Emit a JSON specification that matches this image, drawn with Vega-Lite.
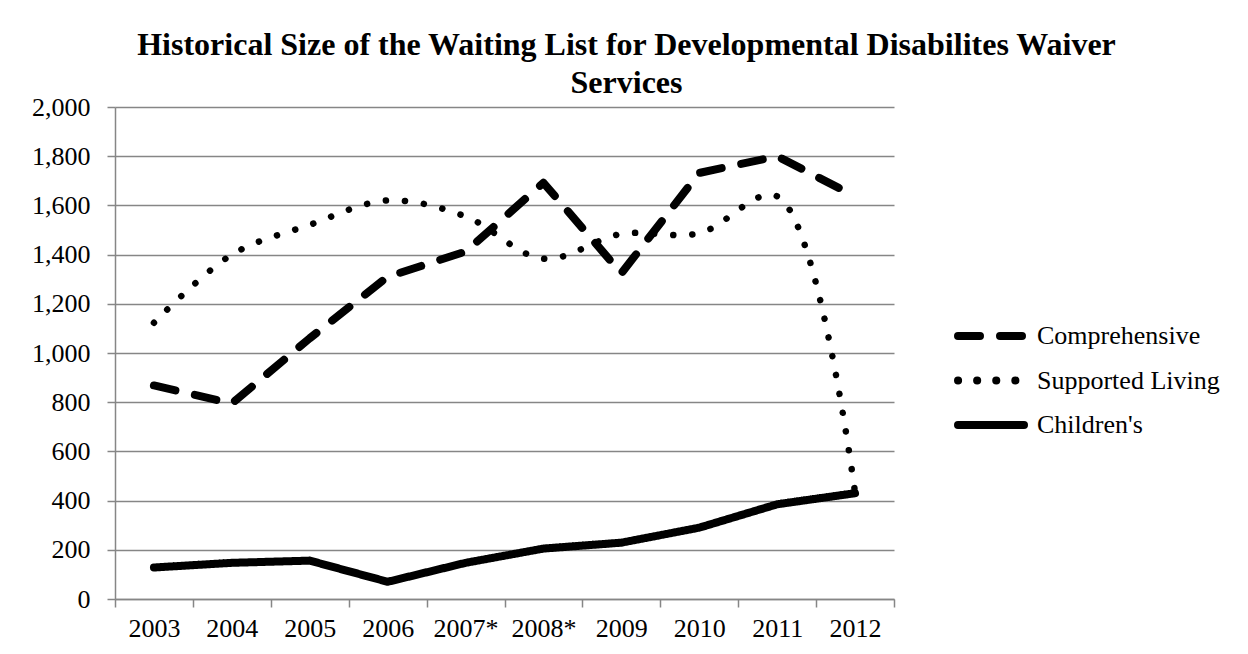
{
  "$schema": "https://vega.github.io/schema/vega-lite/v6.json",
  "autosize": {"type": "none"},
  "width": 779,
  "height": 492,
  "padding": {"left": 115, "top": 107, "right": 354, "bottom": 55},
  "background": "white",
  "config": {
    "font": "Liberation Serif",
    "view": {"stroke": null},
    "axis": {"labelFont": "Liberation Serif", "labelFontSize": 26, "labelColor": "black", "domainColor": "#868686", "tickColor": "#868686", "gridColor": "#868686", "domainWidth": 1.5, "tickWidth": 1.5, "gridWidth": 1.5}
  },
  "title": {
    "text": ["Historical Size of the Waiting List for Developmental Disabilites Waiver", "Services"],
    "font": "Liberation Serif",
    "fontSize": 32,
    "fontWeight": "bold",
    "color": "black",
    "lineHeight": 38,
    "anchor": "middle",
    "frame": "group",
    "dx": 122,
    "dy": 14,
    "offset": 8
  },
  "data": {
    "values": [
      {"year": "2003", "series": "Comprehensive", "value": 868},
      {"year": "2004", "series": "Comprehensive", "value": 795},
      {"year": "2005", "series": "Comprehensive", "value": 1060},
      {"year": "2006", "series": "Comprehensive", "value": 1310},
      {"year": "2007*", "series": "Comprehensive", "value": 1412},
      {"year": "2008*", "series": "Comprehensive", "value": 1692},
      {"year": "2009", "series": "Comprehensive", "value": 1324},
      {"year": "2010", "series": "Comprehensive", "value": 1732},
      {"year": "2011", "series": "Comprehensive", "value": 1800},
      {"year": "2012", "series": "Comprehensive", "value": 1637},
      {"year": "2003", "series": "Supported Living", "value": 1123},
      {"year": "2004", "series": "Supported Living", "value": 1400},
      {"year": "2005", "series": "Supported Living", "value": 1521},
      {"year": "2006", "series": "Supported Living", "value": 1620},
      {"year": "2007*", "series": "Supported Living", "value": 1555},
      {"year": "2008*", "series": "Supported Living", "value": 1383},
      {"year": "2009", "series": "Supported Living", "value": 1484},
      {"year": "2010", "series": "Supported Living", "value": 1487},
      {"year": "2011", "series": "Supported Living", "value": 1637},
      {"year": "2012", "series": "Supported Living", "value": 432},
      {"year": "2003", "series": "Children's", "value": 128},
      {"year": "2004", "series": "Children's", "value": 147},
      {"year": "2005", "series": "Children's", "value": 156},
      {"year": "2006", "series": "Children's", "value": 70},
      {"year": "2007*", "series": "Children's", "value": 147},
      {"year": "2008*", "series": "Children's", "value": 205},
      {"year": "2009", "series": "Children's", "value": 229},
      {"year": "2010", "series": "Children's", "value": 290},
      {"year": "2011", "series": "Children's", "value": 385},
      {"year": "2012", "series": "Children's", "value": 430}
    ]
  },
  "encoding": {
    "x": {
      "field": "year", "type": "ordinal", "sort": null,
      "scale": {"type": "band", "paddingInner": 0, "paddingOuter": 0},
      "axis": {"title": null, "labelAngle": 0, "tickBand": "extent", "tickSize": 8, "labelPadding": 8, "grid": false}
    },
    "y": {
      "field": "value", "type": "quantitative",
      "scale": {"domain": [0, 2000]},
      "axis": {"title": null, "values": [0,200,400,600,800,1000,1200,1400,1600,1800,2000], "format": ",d", "tickSize": 8, "labelPadding": 17, "grid": true}
    },
    "strokeDash": {
      "field": "series", "type": "nominal",
      "scale": {"domain": ["Comprehensive", "Supported Living", "Children's"], "range": [[22, 20], [0.1, 19], [1, 0]]},
      "legend": {
        "title": null, "orient": "none", "legendX": 839, "legendY": 214,
        "symbolType": "stroke", "symbolSize": 4356, "symbolStrokeWidth": 8, "symbolStrokeColor": "black",
        "labelFont": "Liberation Serif", "labelFontSize": 26, "labelColor": "black", "labelOffset": 9, "labelLimit": 0,
        "clipHeight": 30, "rowPadding": 14.5,
        "encode": {"symbols": {"update": {"strokeCap": {"value": "round"}}}}
      }
    }
  },
  "layer": [
    {
      "transform": [{"filter": "datum.series === 'Comprehensive'"}],
      "mark": {"type": "line", "color": "black", "strokeWidth": 8, "strokeCap": "round", "strokeJoin": "round"}
    },
    {
      "transform": [{"filter": "datum.series === 'Supported Living'"}],
      "mark": {"type": "line", "color": "black", "strokeWidth": 6.5, "strokeCap": "round", "interpolate": "catmull-rom"}
    },
    {
      "transform": [{"filter": "datum.series === \"Children's\""}],
      "mark": {"type": "line", "color": "black", "strokeWidth": 8, "strokeCap": "round", "strokeJoin": "round"}
    }
  ]
}
